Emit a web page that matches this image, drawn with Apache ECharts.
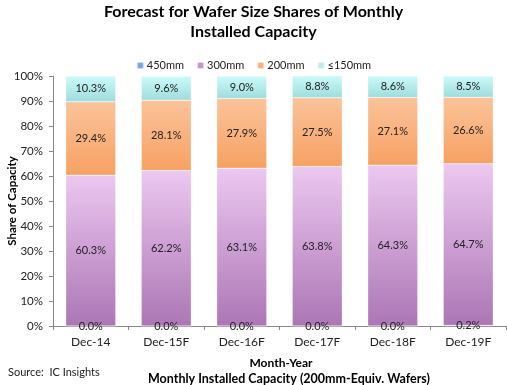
<!DOCTYPE html>
<html><head><meta charset="utf-8">
<script src="https://cdn.jsdelivr.net/npm/echarts@6/dist/echarts.min.js"></script>
<style>html,body{margin:0;padding:0;background:#fff}#c{width:507px;height:385px}</style>
</head><body><div id="c"></div>
<script>
var categories = ['Dec-14','Dec-15F','Dec-16F','Dec-17F','Dec-18F','Dec-19F'];
var s450 = [0.0, 0.0, 0.0, 0.0, 0.0, 0.2];
var s300 = [60.3, 62.2, 63.1, 63.8, 64.3, 64.7];
var s200 = [29.4, 28.1, 27.9, 27.5, 27.1, 26.6];
var s150 = [10.3, 9.6, 9.0, 8.8, 8.6, 8.5];
var yTicks = [0,10,20,30,40,50,60,70,80,90,100];

var F = 'Lato';
function grad(top, bottom){
  return new echarts.graphic.LinearGradient(0,0,0,1,[{offset:0,color:top},{offset:1,color:bottom}]);
}
var lbl = {show:true, position:'inside', fontFamily:F, fontSize:11, color:'#222',
  formatter:function(p){return p.value.toFixed(1)+'%';}};
function mk(name, data, top, bottom){
  return {name:name, type:'bar', stack:'a', data:data, barWidth:50,
    itemStyle:{color:grad(top,bottom), borderColor:'rgba(255,255,255,0.6)', borderWidth:0.5},
    label:lbl, emphasis:{disabled:true}};
}
var chart = echarts.init(document.getElementById('c'), null, {renderer:'canvas'});
chart.setOption({
  animation:false,
  title:{text:'Forecast for Wafer Size Shares of Monthly\nInstalled Capacity', left:'center', top:-3,
    textStyle:{fontFamily:F, fontSize:16, fontWeight:'bold', color:'#000', lineHeight:20}},
  legend:{top:55, left:'center', itemWidth:7, itemHeight:7, itemGap:12,
    textStyle:{fontFamily:F, fontSize:11, color:'#222', padding:[0,0,0,-2]},
    data:[{name:'450mm', itemStyle:{color:'#7ea6e0'}},{name:'300mm', itemStyle:{color:'#c792cf'}},
          {name:'200mm', itemStyle:{color:'#f9b07e'}},{name:'≤150mm', itemStyle:{color:'#bdeeee'}}]},
  grid:{left:53, right:1, top:76, bottom:59, containLabel:false, outerBoundsMode:'none'},
  xAxis:{type:'category', data:categories,
    axisLine:{lineStyle:{color:'#888'}},
    axisTick:{show:true, length:4, lineStyle:{color:'#888'}},
    axisLabel:{fontFamily:F, fontSize:12, color:'#222', margin:10}},
  yAxis:{type:'value', min:0, max:100, interval:10,
    axisLine:{show:true, lineStyle:{color:'#888'}},
    axisTick:{show:true, length:4, lineStyle:{color:'#888'}},
    splitLine:{show:false},
    axisLabel:{fontFamily:F, fontSize:11.5, color:'#222', margin:10,
      formatter:function(v){return yTicks.indexOf(v)>=0 ? v+'%' : '';}}},
  series:[
    mk('450mm', s450, '#8db4ea', '#5f8fd6'),
    mk('300mm', s300, '#ecc8f0', '#ac76b5'),
    mk('200mm', s200, '#fbc39a', '#f7a163'),
    mk('≤150mm', s150, '#ccfbfb', '#9fdcdc')
  ],
  graphic:[
    {type:'text', x:12, y:201, rotation:Math.PI/2, style:{text:'Share of Capacity', textAlign:'center', textVerticalAlign:'middle', fontFamily:F, fontSize:11.5, fontWeight:'bold', fill:'#000'}},
    {type:'text', left:8, top:367, style:{text:'Source:  IC Insights', fontFamily:F, fontSize:11, fill:'#222'}},
    {type:'text', x:281, y:357, style:{text:'Month-Year', textAlign:'center', fontFamily:F, fontSize:12, fontWeight:'bold', fill:'#000'}},
    {type:'text', x:289, y:372, style:{text:'Monthly Installed Capacity (200mm-Equiv. Wafers)', textAlign:'center', fontFamily:F, fontSize:12.5, fontWeight:'bold', fill:'#000'}}
  ]
});
</script></body></html>
